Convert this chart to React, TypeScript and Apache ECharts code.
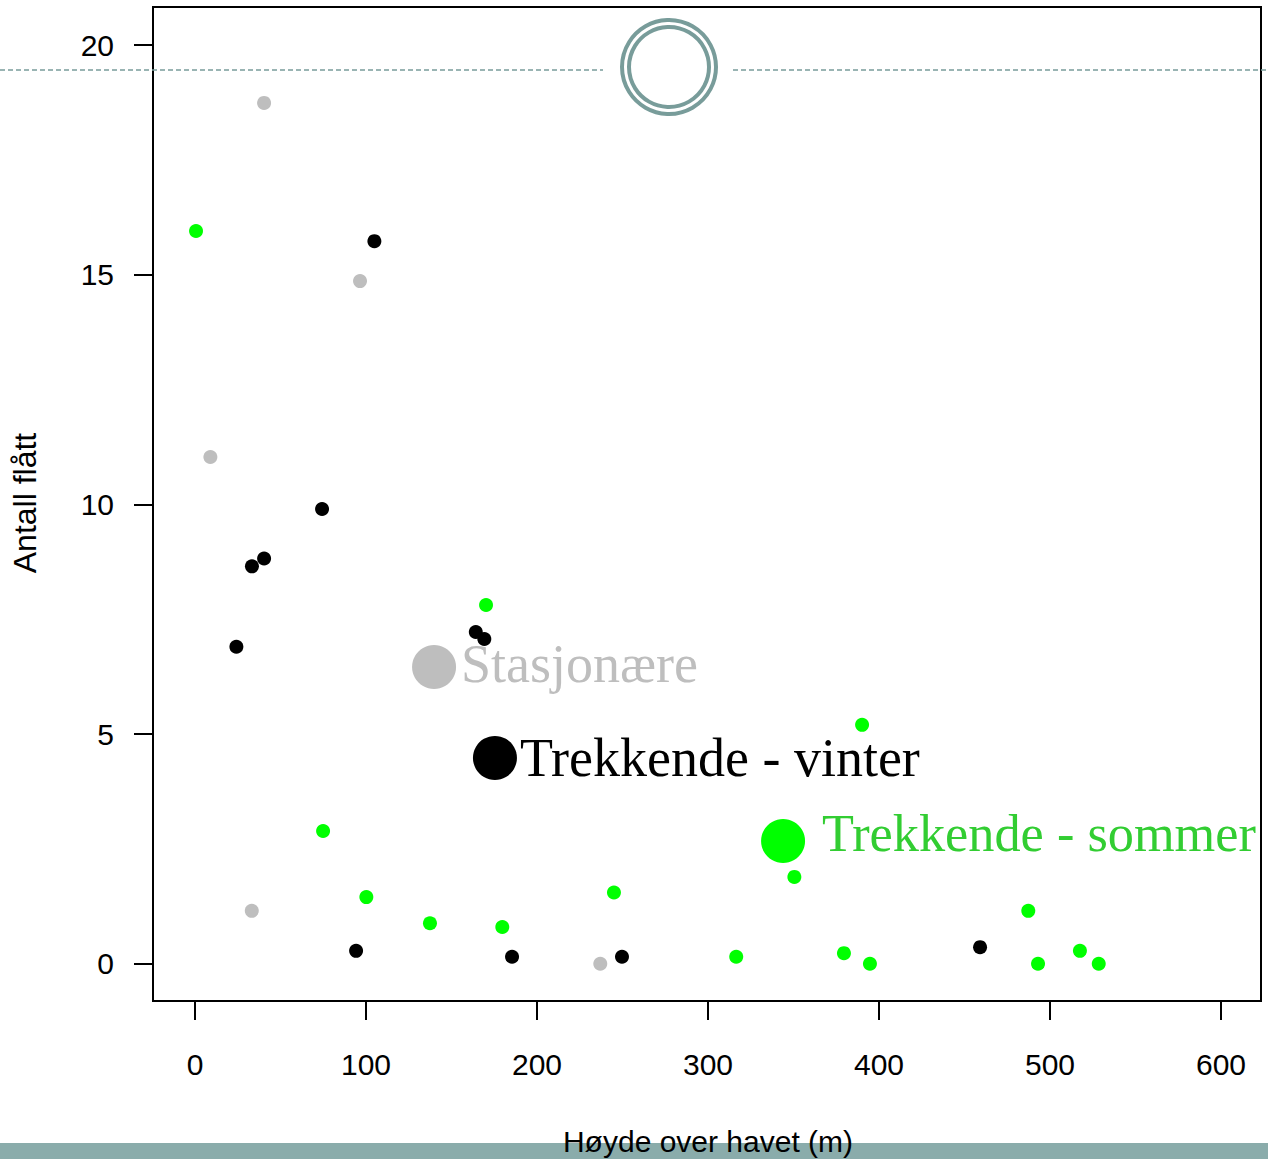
import React, { useEffect, useRef } from "react";
import * as echarts from "echarts";

// Data (x = Høyde over havet (m), y = Antall flått)
const stasjonareX = [40.4, 96.5, 9.0, 33.2, 237.0];
const stasjonareY = [18.74, 14.86, 11.03, 1.15, 0];

const vinterX = [104.9, 74.3, 40.4, 33.3, 24.2, 164.2, 169.2, 94.2, 185.4, 249.7, 459.1];
const vinterY = [15.73, 9.9, 8.82, 8.65, 6.9, 7.22, 7.07, 0.28, 0.15, 0.15, 0.36];

const sommerX = [0.6, 170.2, 390.1, 74.9, 100.2, 137.4, 179.7, 245.0, 350.5, 316.5, 379.5, 394.7, 487.3, 493.0, 517.5, 528.5];
const sommerY = [15.95, 7.81, 5.2, 2.89, 1.45, 0.88, 0.8, 1.55, 1.89, 0.15, 0.23, 0, 1.15, 0, 0.28, 0];

// In-plot legend entries
const legendNames = ["Stasjonære", "Trekkende - vinter", "Trekkende - sommer"];
const legendX = [139.8, 175.4, 343.9];
const legendY = [6.46, 4.48, 2.67];

const xTicks = [0, 100, 200, 300, 400, 500, 600];
const yTicks = [0, 5, 10, 15, 20];

const GRAY = "#bebebe";
const BLACK = "#000000";
const GREEN = "#00ff00";
const GREEN_TEXT = "#32cd32";
const TEAL = "#789c9a";

const zip = (xs: number[], ys: number[]) => xs.map((x, i) => [x, ys[i]]);

export default function App() {
  const ref = useRef<HTMLDivElement>(null);
  useEffect(() => {
    if (!ref.current) return;
    const chart = echarts.init(ref.current, null, { renderer: "svg" });
    const legendColors = [GRAY, BLACK, GREEN];
    const legendTextColors = [GRAY, BLACK, GREEN_TEXT];
    const legendDist = [5, 3, 17];
    const legendOffY = [-3, 0, -8];
    const legendFont = [54, 54, 52.3];
    const tickLabelStyle = {
      fontFamily: "Liberation Sans",
      fontSize: 30,
      color: "#000",
    };

    // pixel layout of the plot box and the tick positions
    const W = 1268;
    const H = 1159;
    const boxL = 153, boxT = 7, boxR = 1261, boxB = 1001;
    const x0px = 195, x600px = 1221; // pixel of x=0 and x=600
    const y0px = 963.7, y20px = 45; // pixel of y=0 and y=20
    const xPerPx = (xTicks[xTicks.length - 1] - xTicks[0]) / (x600px - x0px);
    const yPerPx = (yTicks[yTicks.length - 1] - yTicks[0]) / (y0px - y20px);
    const xMin = xTicks[0] - (x0px - boxL) * xPerPx;
    const xMax = xTicks[xTicks.length - 1] + (boxR - x600px) * xPerPx;
    const yMin = yTicks[0] - (boxB - y0px) * yPerPx;
    const yMax = yTicks[yTicks.length - 1] + (y20px - boxT) * yPerPx;

    const hiddenAxis = { show: false };
    const tickStyle = { show: true, inside: false, length: 19, lineStyle: { color: "#000", width: 2 } };

    chart.setOption({
      animation: false,
      backgroundColor: "#ffffff",
      grid: [
        // data grid = plot box
        { left: boxL, top: boxT, right: W - boxR, bottom: H - boxB, show: true, borderColor: "#000", borderWidth: 2, backgroundColor: "transparent" },
        // x ticks grid
        { left: x0px, right: W - x600px, top: boxT, bottom: H - boxB },
        // y ticks grid
        { left: boxL, right: W - boxR, top: y20px, bottom: H - y0px },
      ],
      xAxis: [
        { gridIndex: 0, type: "value", min: xMin, max: xMax, ...hiddenAxis },
        {
          gridIndex: 1,
          type: "value",
          min: xTicks[0],
          max: xTicks[xTicks.length - 1],
          interval: 100,
          axisLine: { show: false },
          axisTick: tickStyle,
          axisLabel: { ...tickLabelStyle, margin: 48 },
          splitLine: { show: false },
        },
        { gridIndex: 2, type: "value", min: 0, max: 1, ...hiddenAxis },
      ],
      yAxis: [
        { gridIndex: 0, type: "value", min: yMin, max: yMax, ...hiddenAxis },
        { gridIndex: 1, type: "value", min: 0, max: 1, ...hiddenAxis },
        {
          gridIndex: 2,
          type: "value",
          min: yTicks[0],
          max: yTicks[yTicks.length - 1],
          interval: 5,
          axisLine: { show: false },
          axisTick: tickStyle,
          axisLabel: { ...tickLabelStyle, margin: 39 },
          splitLine: { show: false },
        },
      ],
      series: [
        {
          type: "scatter",
          name: "Stasjonære",
          xAxisIndex: 0,
          yAxisIndex: 0,
          clip: false,
          symbolSize: 14,
          itemStyle: { color: GRAY, opacity: 1 },
          data: zip(stasjonareX, stasjonareY),
          z: 3,
        },
        {
          type: "scatter",
          name: "Trekkende - vinter",
          xAxisIndex: 0,
          yAxisIndex: 0,
          clip: false,
          symbolSize: 14,
          itemStyle: { color: BLACK, opacity: 1 },
          data: zip(vinterX, vinterY),
          z: 3,
        },
        {
          type: "scatter",
          name: "Trekkende - sommer",
          xAxisIndex: 0,
          yAxisIndex: 0,
          clip: false,
          symbolSize: 14,
          itemStyle: { color: GREEN, opacity: 1 },
          data: zip(sommerX, sommerY),
          z: 3,
        },
        {
          type: "scatter",
          name: "legend",
          xAxisIndex: 0,
          yAxisIndex: 0,
          clip: false,
          symbolSize: 44,
          z: 4,
          data: legendNames.map((n, i) => ({
            name: n,
            value: [legendX[i], legendY[i]],
            itemStyle: { color: legendColors[i], opacity: 1 },
            label: {
              show: true,
              position: "right",
              distance: legendDist[i],
              offset: [0, legendOffY[i]],
              formatter: n,
              color: legendTextColors[i],
              fontFamily: "Liberation Serif",
              fontSize: legendFont[i],
            },
          })),
        },
      ],
      graphic: [
        {
          type: "line",
          shape: { x1: 0, y1: 70, x2: 603, y2: 70 },
          style: { stroke: TEAL, lineWidth: 1.3, lineDash: [5, 3] },
          z: 11,
        },
        {
          type: "line",
          shape: { x1: 733, y1: 70, x2: 1268, y2: 70 },
          style: { stroke: TEAL, lineWidth: 1.3, lineDash: [5, 3] },
          z: 11,
        },
        {
          type: "circle",
          shape: { cx: 669, cy: 67, r: 47 },
          style: { fill: "#ffffff", stroke: TEAL, lineWidth: 4 },
          z: 11,
        },
        {
          type: "circle",
          shape: { cx: 669, cy: 67, r: 40 },
          style: { fill: "none", stroke: TEAL, lineWidth: 4 },
          z: 11,
        },
        {
          type: "rect",
          shape: { x: 0, y: 1143, width: 1268, height: 16 },
          style: { fill: "#8aacab" },
          z: 1,
        },
        {
          type: "text",
          x: 708,
          y: 1141,
          z: 12,
          style: {
            text: "Høyde over havet (m)",
            fontFamily: "Liberation Sans",
            fontSize: 30,
            fill: "#000",
            textAlign: "center",
            textVerticalAlign: "middle",
          },
        },
        {
          type: "text",
          x: 25,
          y: 503,
          rotation: Math.PI / 2,
          z: 12,
          style: {
            text: "Antall flått",
            fontFamily: "Liberation Sans",
            fontSize: 32,
            fill: "#000",
            textAlign: "center",
            textVerticalAlign: "middle",
          },
        },
      ],
    });
    return () => chart.dispose();
  }, []);
  return (
    <div
      ref={ref}
      style={{ position: "fixed", left: 0, top: 0, width: 1268, height: 1159 }}
    />
  );
}
